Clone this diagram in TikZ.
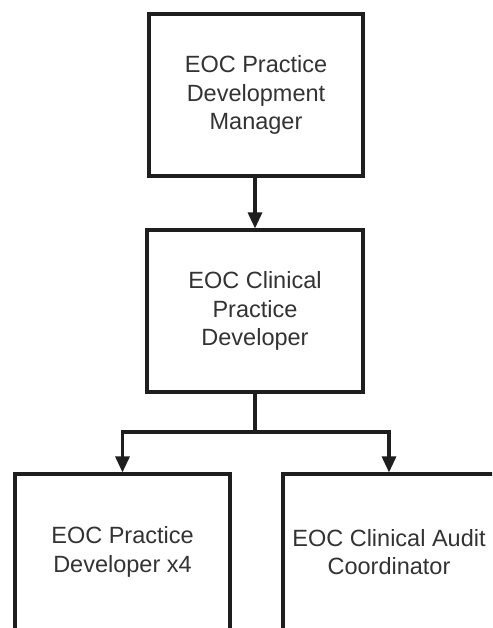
\documentclass[tikz,border=0pt]{standalone}
\usepackage{fontspec}
\setmainfont{Liberation Sans}
\usetikzlibrary{arrows.meta}
\definecolor{txt}{HTML}{333333}
\definecolor{ln}{HTML}{1e1e1e}
\begin{document}
\begin{tikzpicture}[x=1pt,y=-1pt,
  box/.style={draw=ln,line width=3.1pt,fill=white,align=center,text=txt,
    font=\fontsize{23.5}{28.5}\selectfont,inner sep=0pt},
  conn/.style={draw=ln,line width=3.1pt,-{Triangle[width=14pt,length=16pt]}}]
\useasboundingbox (0,0) rectangle (492,628);
\clip (0,0) rectangle (492,628);
\fill[white] (0,0) rectangle (492,628);
\node[box,minimum width=214pt,minimum height=162pt] (pdm) at (256,95) {EOC Practice\\Development\\Manager};
\node[box,minimum width=216pt,minimum height=162pt] (cpd) at (255,311) {EOC Clinical\\Practice\\Developer};
\node[box,minimum width=215pt,minimum height=156pt] (pd) at (122.5,552) {EOC Practice\\Developer x4};
\node[box,minimum width=212pt,minimum height=156pt] (cac) at (389,552) {EOC Clinical Audit\\Coordinator};
\coordinate (j) at (cpd.south |- 0,432);
\draw[conn] (cpd.north |- pdm.south) -- (cpd.north);
\draw[draw=ln,line width=3.1pt] (cpd.south) -- (j);
\draw[conn] (j) -| (pd.north);
\draw[conn] (j) -| (cac.north);
\end{tikzpicture}
\end{document}
